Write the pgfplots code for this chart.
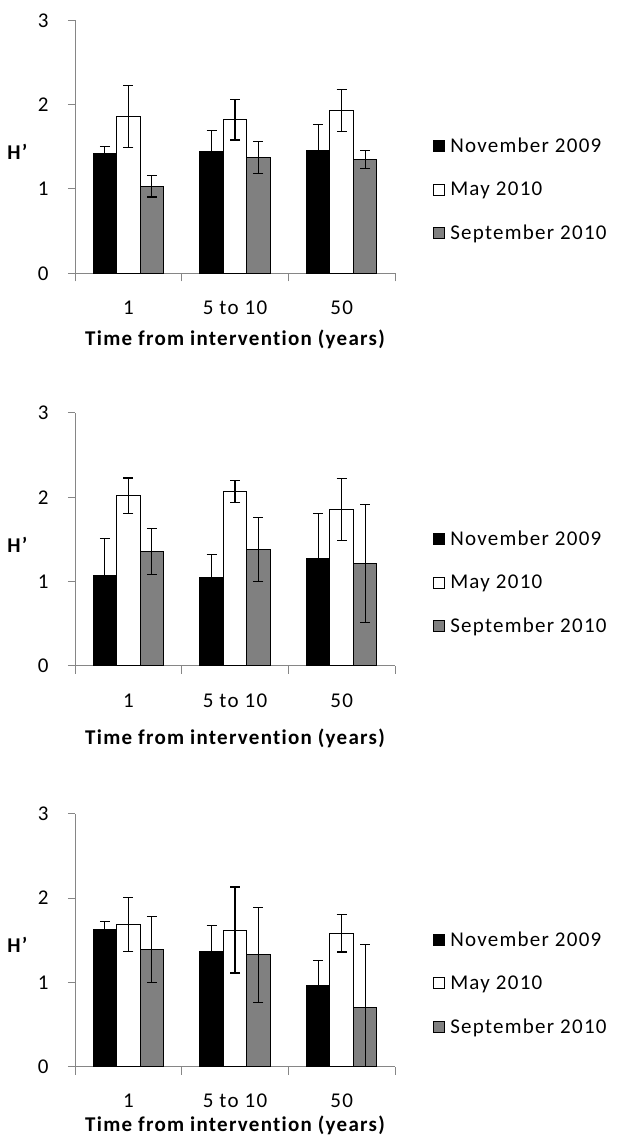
\documentclass[border=0pt]{standalone}
\usepackage{fontspec}
\setmainfont{Carlito}[LetterSpace=6, Ligatures=CommonOff]
\usepackage{pgfplots}
\usepackage{pgfplotstable}
\pgfplotsset{compat=1.18}
\definecolor{axgray}{RGB}{134,134,134}
\definecolor{bargray}{RGB}{128,128,128}

% columns: x, value, error
\pgfplotstableread{
x y ep em
1 1.42 0.08 0.08
2 1.44 0.25 0.25
3 1.46 0.30 0.30
}\Aa
\pgfplotstableread{
x y ep em
1 1.86 0.37 0.37
2 1.82 0.24 0.24
3 1.93 0.245 0.245
}\Ab
\pgfplotstableread{
x y ep em
1 1.03 0.125 0.125
2 1.37 0.19 0.19
3 1.35 0.107 0.107
}\Ac

\pgfplotstableread{
x y ep em
1 1.07 0.44 0.44
2 1.045 0.28 0.28
3 1.28 0.53 0.53
}\Ba
\pgfplotstableread{
x y ep em
1 2.02 0.21 0.21
2 2.065 0.13 0.13
3 1.855 0.37 0.37
}\Bb
\pgfplotstableread{
x y ep em
1 1.36 0.275 0.275
2 1.38 0.38 0.38
3 1.215 0.70 0.70
}\Bc

\pgfplotstableread{
x y ep em
1 1.625 0.10 0.10
2 1.37 0.30 0.30
3 0.963 0.30 0.30
}\Ca
\pgfplotstableread{
x y ep em
1 1.69 0.32 0.32
2 1.62 0.51 0.51
3 1.58 0.22 0.22
}\Cb
\pgfplotstableread{
x y ep em
1 1.39 0.39 0.39
2 1.325 0.56 0.56
3 0.703 0.75 0.703
}\Cc

\pgfplotsset{
  panel/.style={
    scale only axis,
    width=320pt, height=253pt,
    anchor=south west,
    ybar=0pt, bar width=0.22,
    xmin=0.5, xmax=3.5, ymin=0, ymax=3,
    axis lines=left,
    axis line style={draw=axgray, line width=1pt, -},
    tick style={draw=axgray, line width=1pt},
    tick align=outside,
    ytick={0,1,2,3},
    major tick length=7pt,
    xtick={1,2,3},
    xticklabels={1,5 to 10,50},
    x tick style={draw=none},
    extra x ticks={0.5,1.5,2.5,3.5},
    extra x tick labels={},
    extra x tick style={x tick style={draw=axgray, line width=1pt}, major tick length=8pt},
    /pgf/number format/assume math mode=true,
    tick label style={font=\fontsize{21}{25}\selectfont},
    yticklabel style={xshift=-16pt},
    xticklabel style={yshift=-17pt},
    xlabel={Time from intervention (years)},
    xlabel style={font=\fontsize{21}{25}\selectfont\bfseries, at={(axis description cs:0.5,0)}, anchor=north},
    ylabel={H’},
    ylabel style={font=\fontsize{21}{25}\selectfont\bfseries, rotate=-90, at={(axis description cs:-0.18,0.48)}, anchor=center},
    legend image code/.code={\draw[#1, draw=black, line width=1pt] (0pt,-5.5pt) rectangle (11pt,5.5pt);},
    legend style={draw=none, fill=none, at={(1.119,0.33)}, anchor=west, inner sep=0pt,
      font=\fontsize{21}{25}\selectfont, row sep=28pt,
      nodes={inner xsep=5pt, inner ysep=0pt}},
    legend cell align=left,
    clip=false,
  },
  bars/.style={draw=black, line width=1pt,
    error bars/y dir=both, error bars/y explicit,
    error bars/error bar style={black, line width=1.2pt},
    error bars/error mark options={rotate=90, mark size=5pt, black, line width=1.2pt}},
}

\begin{document}
\begin{tikzpicture}
\useasboundingbox (0,0) rectangle (619pt,1146pt);

\begin{axis}[panel, at={(75pt,872.7pt)}, xlabel style={yshift=-53pt}]
\addplot[bars, fill=black] table[x=x, y=y, y error plus=ep, y error minus=em] {\Aa};
\addplot[bars, fill=white] table[x=x, y=y, y error plus=ep, y error minus=em] {\Ab};
\addplot[bars, fill=bargray] table[x=x, y=y, y error plus=ep, y error minus=em] {\Ac};
\legend{November 2009, May 2010, September 2010}
\end{axis}

\begin{axis}[panel, at={(75pt,480pt)}, xlabel style={yshift=-59pt}]
\addplot[bars, fill=black] table[x=x, y=y, y error plus=ep, y error minus=em] {\Ba};
\addplot[bars, fill=white] table[x=x, y=y, y error plus=ep, y error minus=em] {\Bb};
\addplot[bars, fill=bargray] table[x=x, y=y, y error plus=ep, y error minus=em] {\Bc};
\legend{November 2009, May 2010, September 2010}
\end{axis}

\begin{axis}[panel, at={(75pt,79.3pt)}, xlabel style={yshift=-46pt}]
\addplot[bars, fill=black] table[x=x, y=y, y error plus=ep, y error minus=em] {\Ca};
\addplot[bars, fill=white] table[x=x, y=y, y error plus=ep, y error minus=em] {\Cb};
\addplot[bars, fill=bargray] table[x=x, y=y, y error plus=ep, y error minus=em] {\Cc};
\legend{November 2009, May 2010, September 2010}
\end{axis}
\end{tikzpicture}
\end{document}
